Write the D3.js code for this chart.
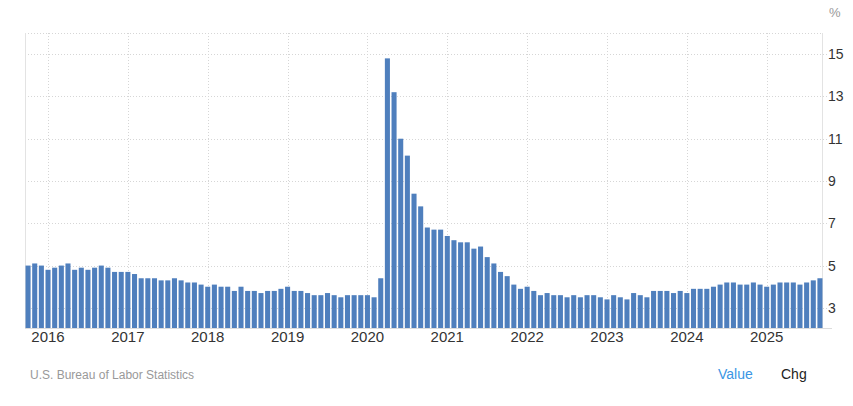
<!DOCTYPE html>
<html>
<head>
<meta charset="utf-8">
<script src="https://cdn.jsdelivr.net/npm/d3@7"></script>
<style>
  html, body { margin: 0; padding: 0; background: #fff; }
  svg { display: block; font-family: "Liberation Sans", Arial, sans-serif; }
</style>
</head>
<body>
<svg id="chart" width="853" height="406"></svg>
<script>
// Monthly US unemployment rate, Oct 2015 – Sep 2025
const startYear = 2015, startMonth = 9; // October 2015 (0-based month)
const values = [
  5.0, 5.1, 5.0,
  4.8, 4.9, 5.0, 5.1, 4.8, 4.9, 4.8, 4.9, 5.0, 4.9, 4.7, 4.7,
  4.7, 4.6, 4.4, 4.4, 4.4, 4.3, 4.3, 4.4, 4.3, 4.2, 4.2, 4.1,
  4.0, 4.1, 4.0, 4.0, 3.8, 4.0, 3.8, 3.8, 3.7, 3.8, 3.8, 3.9,
  4.0, 3.8, 3.8, 3.7, 3.6, 3.6, 3.7, 3.6, 3.5, 3.6, 3.6, 3.6,
  3.6, 3.5, 4.4, 14.8, 13.2, 11.0, 10.2, 8.4, 7.8, 6.8, 6.7, 6.7,
  6.4, 6.2, 6.1, 6.1, 5.8, 5.9, 5.4, 5.1, 4.7, 4.5, 4.1, 3.9,
  4.0, 3.8, 3.6, 3.7, 3.6, 3.6, 3.5, 3.6, 3.5, 3.6, 3.6, 3.5,
  3.4, 3.6, 3.5, 3.4, 3.7, 3.6, 3.5, 3.8, 3.8, 3.8, 3.7, 3.8,
  3.7, 3.9, 3.9, 3.9, 4.0, 4.1, 4.2, 4.2, 4.1, 4.1, 4.2, 4.1,
  4.0, 4.1, 4.2, 4.2, 4.2, 4.1, 4.2, 4.3, 4.4
];
const yearLabels = ["2016","2017","2018","2019","2020","2021","2022","2023","2024","2025"];
const yTicks = [3, 5, 7, 9, 11, 13, 15];

(function () {
const months = values.map((v, i) => {
  const m = startMonth + i;
  return { key: `${startYear + Math.floor(m / 12)}-${m % 12}`, v };
});

const svg = d3.select("#chart");
const pL = 25, pR = 823, pT = 33, pB = 329;

const x = d3.scaleBand().domain(months.map(d => d.key)).range([pL, pR]).paddingInner(0.24).paddingOuter(0.08);
const y = d3.scaleLinear().domain([2, 16]).range([pB, pT]);

// horizontal gridlines
svg.append("g").selectAll("line").data(yTicks.concat([16])).join("line")
  .attr("x1", pL).attr("x2", d => d === 16 ? pR : pR + 5)
  .attr("y1", d => Math.round(y(d)) + 0.5).attr("y2", d => Math.round(y(d)) + 0.5)
  .attr("stroke", "#d6d6d6").attr("stroke-dasharray", "1,2");

// vertical year gridlines
const janKeys = yearLabels.map(yr => `${yr}-0`);
svg.append("g").selectAll("line").data(janKeys).join("line")
  .attr("x1", d => Math.round(x(d) + x.bandwidth() / 2) + 0.5)
  .attr("x2", d => Math.round(x(d) + x.bandwidth() / 2) + 0.5)
  .attr("y1", pT).attr("y2", pB)
  .attr("stroke", "#d6d6d6").attr("stroke-dasharray", "1,2");

// frame lines
svg.append("line").attr("x1", pL + 0.5).attr("x2", pL + 0.5).attr("y1", pT).attr("y2", pB)
  .attr("stroke", "#e3e3e3");
svg.append("line").attr("x1", pR - 0.5).attr("x2", pR - 0.5).attr("y1", pT).attr("y2", pB)
  .attr("stroke", "#e3e3e3");

// bars
svg.append("g").selectAll("rect").data(months).join("rect")
  .attr("x", d => x(d.key))
  .attr("width", x.bandwidth())
  .attr("y", d => y(d.v))
  .attr("height", d => y(2) - y(d.v))
  .attr("fill", "#4f7fbd");

// bottom axis line
svg.append("line").attr("x1", pL).attr("x2", pR + 9).attr("y1", pB - 0.5).attr("y2", pB - 0.5)
  .attr("stroke", "#dcdcdc");

// y labels (right)
svg.append("g").selectAll("text").data(yTicks).join("text")
  .attr("x", 828).attr("y", d => y(d)).attr("dy", "0.36em")
  .attr("font-size", 14).attr("fill", "#333").text(d => d);

svg.append("text").attr("x", 829).attr("y", 17).attr("font-size", 13).attr("fill", "#999").text("%");

// x labels
svg.append("g").selectAll("text").data(yearLabels).join("text")
  .attr("x", d => x(`${d}-0`) + x.bandwidth() / 2).attr("y", 341.5)
  .attr("text-anchor", "middle").attr("font-size", 15).attr("fill", "#333").text(d => d);

// footer
svg.append("text").attr("x", 30).attr("y", 379).attr("font-size", 12).attr("fill", "#999")
  .text("U.S. Bureau of Labor Statistics");
svg.append("text").attr("x", 718).attr("y", 378.5).attr("font-size", 14).attr("fill", "#3a96e4").text("Value");
svg.append("text").attr("x", 781).attr("y", 378.5).attr("font-size", 14).attr("fill", "#222").text("Chg");
})();
</script>
</body>
</html>
